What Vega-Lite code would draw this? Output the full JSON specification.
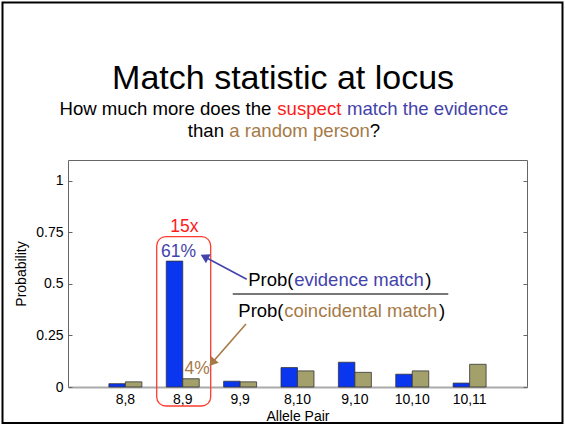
{
  "$schema": "https://vega.github.io/schema/vega-lite/v6.json",
  "width": 459,
  "height": 227,
  "autosize": {"type": "none"},
  "padding": {"left": 68, "top": 160, "right": 38, "bottom": 39},
  "background": "white",
  "config": {
    "font": "Liberation Sans",
    "view": {"stroke": "#666666", "strokeWidth": 1},
    "text": {"font": "Liberation Sans"}
  },
  "datasets": {
    "bars": [
      {"pair": "8,8", "who": "evidence", "prob": 0.016},
      {"pair": "8,8", "who": "coincidental", "prob": 0.025},
      {"pair": "8,9", "who": "evidence", "prob": 0.61},
      {"pair": "8,9", "who": "coincidental", "prob": 0.04},
      {"pair": "9,9", "who": "evidence", "prob": 0.028},
      {"pair": "9,9", "who": "coincidental", "prob": 0.025},
      {"pair": "8,10", "who": "evidence", "prob": 0.094},
      {"pair": "8,10", "who": "coincidental", "prob": 0.078},
      {"pair": "9,10", "who": "evidence", "prob": 0.12},
      {"pair": "9,10", "who": "coincidental", "prob": 0.071},
      {"pair": "10,10", "who": "evidence", "prob": 0.062},
      {"pair": "10,10", "who": "coincidental", "prob": 0.078},
      {"pair": "10,11", "who": "evidence", "prob": 0.019},
      {"pair": "10,11", "who": "coincidental", "prob": 0.11}
    ],
    "notes": [
      {"label": "Match statistic at locus", "x": 3.749, "y": 1.4417, "tone": "ink", "role": "title"},
      {"label": "How much more does the", "x": -0.148, "y": 1.3181, "tone": "ink", "role": "sub"},
      {"label": "suspect", "x": 3.648, "y": 1.3181, "tone": "red", "role": "sub"},
      {"label": "match the evidence", "x": 4.863, "y": 1.3181, "tone": "blue", "role": "sub"},
      {"label": "than", "x": 2.088, "y": 1.2129, "tone": "ink", "role": "sub"},
      {"label": "a random person", "x": 2.811, "y": 1.2129, "tone": "brown", "role": "sub"},
      {"label": "?", "x": 5.26, "y": 1.2129, "tone": "ink", "role": "sub"},
      {"label": "15x", "x": 2.03, "y": 0.7511, "tone": "red", "role": "call"},
      {"label": "61%", "x": 1.926, "y": 0.6314, "tone": "blue", "role": "call"},
      {"label": "4%", "x": 2.252, "y": 0.063, "tone": "brown", "role": "call"},
      {"label": "Prob(", "x": 3.142, "y": 0.4894, "tone": "ink", "role": "frac"},
      {"label": "evidence match", "x": 3.942, "y": 0.4894, "tone": "blue", "role": "frac"},
      {"label": ")", "x": 6.225, "y": 0.4894, "tone": "ink", "role": "frac"},
      {"label": "Prob(", "x": 2.968, "y": 0.3378, "tone": "ink", "role": "frac"},
      {"label": "coincidental match", "x": 3.768, "y": 0.3378, "tone": "brown", "role": "frac"},
      {"label": ")", "x": 6.467, "y": 0.3378, "tone": "ink", "role": "frac"}
    ]
  },
  "layer": [
    {
      "data": {"values": [{"x": -1.1416, "x2": 8.6187, "y": 1.8633, "y2": -0.1745}]},
      "mark": {"type": "rect", "fillOpacity": 0, "stroke": "#000000", "strokeWidth": 2},
      "encoding": {
        "x": {"field": "x", "type": "quantitative", "scale": {"domain": [0, 8], "nice": false}, "axis": null},
        "x2": {"field": "x2"},
        "y": {"field": "y", "type": "quantitative", "scale": {"domain": [0, 1.1], "nice": false}, "axis": null},
        "y2": {"field": "y2"}
      }
    },
    {
      "data": {"name": "bars"},
      "mark": {"type": "bar", "stroke": "#333333", "strokeWidth": 0.8},
      "encoding": {
        "x": {
          "field": "pair", "type": "nominal",
          "sort": ["8,8", "8,9", "9,9", "8,10", "9,10", "10,10", "10,11"],
          "scale": {"paddingInner": 0, "paddingOuter": 0.5},
          "axis": {
            "title": "Allele Pair", "titleFontSize": 14, "titleFontWeight": "normal", "titleColor": "#000000",
            "titlePadding": 3, "labelFontSize": 14, "labelColor": "#000000", "labelAngle": 0,
            "labelPadding": 5, "ticks": false, "domainColor": "#aaaaaa", "domainWidth": 2
          }
        },
        "xOffset": {
          "field": "who", "type": "nominal", "sort": ["evidence", "coincidental"],
          "scale": {"paddingInner": 0, "paddingOuter": 0.74}
        },
        "y": {
          "field": "prob", "type": "quantitative",
          "scale": {"domain": [0, 1.1], "nice": false},
          "axis": {
            "title": "Probability", "titleFontSize": 14, "titleFontWeight": "normal", "titleColor": "#000000",
            "titlePadding": 7, "values": [0, 0.25, 0.5, 0.75, 1], "format": ".2~f",
            "labelFontSize": 14, "labelColor": "#000000", "tickSize": -4, "tickColor": "#666666",
            "labelPadding": 9, "domain": false, "grid": false
          }
        },
        "color": {
          "field": "who", "type": "nominal", "legend": null,
          "scale": {
            "domain": ["evidence", "coincidental", "ink", "red", "blue", "brown"],
            "range": ["#0a36f0", "#a3a06c", "#000000", "#ff1a1a", "#4343ab", "#a67a47"]
          }
        }
      }
    },
    {
      "data": {"values": [{"x": 1.546, "x2": 2.487, "y": 0.7283, "y2": -0.0921}]},
      "mark": {"type": "rect", "fillOpacity": 0, "stroke": "#ff3b2e", "strokeWidth": 1.3, "cornerRadius": 9},
      "encoding": {
        "x": {"field": "x", "type": "quantitative", "scale": {"domain": [0, 8], "nice": false}, "axis": null},
        "x2": {"field": "x2"},
        "y": {"field": "y", "type": "quantitative", "scale": {"domain": [0, 1.1], "nice": false}, "axis": null},
        "y2": {"field": "y2"}
      }
    },
    {
      "data": {"values": [{"x": 2.871, "x2": 6.628, "y": 0.4507}]},
      "mark": {"type": "rule", "color": "#777777", "strokeWidth": 2},
      "encoding": {
        "x": {"field": "x", "type": "quantitative", "scale": {"domain": [0, 8], "nice": false}, "axis": null},
        "x2": {"field": "x2"},
        "y": {
          "field": "y", "type": "quantitative", "scale": {"domain": [0, 1.1], "nice": false},
          "axis": {
            "orient": "right", "values": [0, 0.25, 0.5, 0.75, 1], "labels": false, "title": null,
            "tickSize": -4, "tickColor": "#666666", "domain": false, "grid": false
          }
        }
      }
    },
    {
      "data": {"values": [
        {"x": 3.115, "y": 0.5219, "x2": 2.379, "y2": 0.6314, "tone": "blue"},
        {"x": 3.102, "y": 0.3053, "x2": 2.512, "y2": 0.1173, "tone": "brown"}
      ]},
      "mark": {"type": "rule", "strokeWidth": 1.6},
      "encoding": {
        "x": {"field": "x", "type": "quantitative", "scale": {"domain": [0, 8], "nice": false}, "axis": null},
        "x2": {"field": "x2"},
        "y": {"field": "y", "type": "quantitative", "scale": {"domain": [0, 1.1], "nice": false}, "axis": null},
        "y2": {"field": "y2"},
        "color": {"field": "tone", "type": "nominal", "legend": null}
      }
    },
    {
      "data": {"values": [{"x": 2.379, "y": 0.6314, "tone": "blue"}]},
      "mark": {"type": "point", "shape": "triangle-up", "filled": true, "opacity": 1, "size": 100, "angle": 298},
      "encoding": {
        "x": {"field": "x", "type": "quantitative", "scale": {"domain": [0, 8], "nice": false}, "axis": null},
        "y": {"field": "y", "type": "quantitative", "scale": {"domain": [0, 1.1], "nice": false}, "axis": null},
        "color": {"field": "tone", "type": "nominal", "legend": null}
      }
    },
    {
      "data": {"values": [{"x": 2.512, "y": 0.1173, "tone": "brown"}]},
      "mark": {"type": "point", "shape": "triangle-up", "filled": true, "opacity": 1, "size": 100, "angle": 221},
      "encoding": {
        "x": {"field": "x", "type": "quantitative", "scale": {"domain": [0, 8], "nice": false}, "axis": null},
        "y": {"field": "y", "type": "quantitative", "scale": {"domain": [0, 1.1], "nice": false}, "axis": null},
        "color": {"field": "tone", "type": "nominal", "legend": null}
      }
    },
    {
      "data": {"name": "notes"},
      "transform": [{"filter": "datum.role === 'title'"}],
      "mark": {"type": "text", "fontSize": 34, "align": "center", "baseline": "alphabetic"},
      "encoding": {
        "x": {"field": "x", "type": "quantitative", "scale": {"domain": [0, 8], "nice": false}, "axis": null},
        "y": {"field": "y", "type": "quantitative", "scale": {"domain": [0, 1.1], "nice": false}, "axis": null},
        "text": {"field": "label"},
        "color": {"field": "tone", "type": "nominal", "legend": null}
      }
    },
    {
      "data": {"name": "notes"},
      "transform": [{"filter": "datum.role === 'sub'"}],
      "mark": {"type": "text", "fontSize": 18.6, "align": "left", "baseline": "alphabetic"},
      "encoding": {
        "x": {"field": "x", "type": "quantitative", "scale": {"domain": [0, 8], "nice": false}, "axis": null},
        "y": {"field": "y", "type": "quantitative", "scale": {"domain": [0, 1.1], "nice": false}, "axis": null},
        "text": {"field": "label"},
        "color": {"field": "tone", "type": "nominal", "legend": null}
      }
    },
    {
      "data": {"name": "notes"},
      "transform": [{"filter": "datum.role === 'call'"}],
      "mark": {"type": "text", "fontSize": 17.5, "align": "center", "baseline": "alphabetic"},
      "encoding": {
        "x": {"field": "x", "type": "quantitative", "scale": {"domain": [0, 8], "nice": false}, "axis": null},
        "y": {"field": "y", "type": "quantitative", "scale": {"domain": [0, 1.1], "nice": false}, "axis": null},
        "text": {"field": "label"},
        "color": {"field": "tone", "type": "nominal", "legend": null}
      }
    },
    {
      "data": {"name": "notes"},
      "transform": [{"filter": "datum.role === 'frac'"}],
      "mark": {"type": "text", "fontSize": 18.5, "align": "left", "baseline": "alphabetic"},
      "encoding": {
        "x": {"field": "x", "type": "quantitative", "scale": {"domain": [0, 8], "nice": false}, "axis": null},
        "y": {"field": "y", "type": "quantitative", "scale": {"domain": [0, 1.1], "nice": false}, "axis": null},
        "text": {"field": "label"},
        "color": {"field": "tone", "type": "nominal", "legend": null}
      }
    }
  ],
  "resolve": {"scale": {"x": "independent"}, "axis": {"y": "independent"}}
}
